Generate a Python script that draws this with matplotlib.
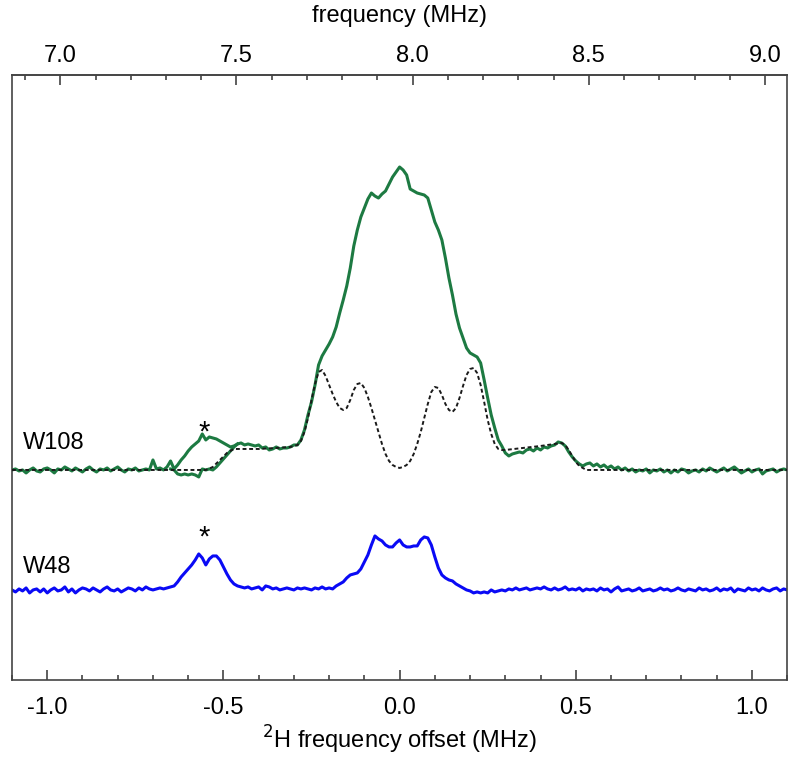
import numpy as np
import matplotlib.pyplot as plt
from matplotlib.ticker import MultipleLocator, FixedLocator

plt.rcParams['font.family'] = ['Liberation Sans', 'DejaVu Sans']

# 2H frequency offset grid (MHz), 0.01 MHz steps
offset = np.round(np.arange(-1.10, 1.105, 0.01), 2)

# W108 experimental spectrum (arb. units, baseline = 0)
w108 = [
    0.00, 0.01, -0.01, 0.00, -0.03, 0.00, 0.02, -0.01, -0.02, 0.01,
    0.02, 0.00, -0.03, 0.01, 0.00, 0.03, 0.01, -0.01, 0.02, 0.00,
    -0.02, 0.01, 0.03, 0.00, -0.02, 0.01, 0.00, 0.02, -0.01, 0.01,
    0.03, 0.00, -0.02, 0.01, 0.00, 0.02, -0.01, 0.00, 0.01, 0.00,
    0.10, 0.01, 0.02, 0.00, 0.03, 0.09, 0.01, 0.05, 0.10, 0.14,
    0.19, 0.23, 0.26, 0.29, 0.36, 0.30, 0.33, 0.32, 0.31, 0.29,
    0.27, 0.25, 0.23, 0.24, 0.26, 0.27, 0.25, 0.26, 0.25, 0.24,
    0.25, 0.22, 0.23, 0.20, 0.21, 0.23, 0.21, 0.22, 0.22, 0.23,
    0.25, 0.25, 0.30, 0.40, 0.55, 0.68, 0.85, 1.05, 1.14, 1.20,
    1.26, 1.33, 1.43, 1.57, 1.70, 1.84, 2.02, 2.24, 2.40, 2.53,
    2.62, 2.71, 2.77, 2.74, 2.72, 2.76, 2.79, 2.86, 2.93, 2.98,
    3.03, 3.00, 2.95, 2.81, 2.79, 2.77, 2.76, 2.75, 2.72, 2.60,
    2.48, 2.40, 2.30, 2.12, 1.92, 1.75, 1.56, 1.42, 1.32, 1.22,
    1.17, 1.15, 1.13, 1.07, 0.90, 0.72, 0.55, 0.42, 0.30, 0.24,
    0.17, 0.14, 0.16, 0.17, 0.18, 0.17, 0.20, 0.21, 0.19, 0.22,
    0.20, 0.23, 0.22, 0.24, 0.25, 0.28, 0.27, 0.24, 0.18, 0.13,
    0.09, 0.06, 0.04, 0.06, 0.07, 0.04, 0.06, 0.03, 0.05, 0.02,
    0.04, 0.01, 0.03, 0.00, 0.02, -0.01, 0.01, -0.02, 0.00, -0.01,
    0.01, -0.03, 0.00, -0.01, 0.01, -0.02, 0.00, -0.03, 0.00, -0.02,
    0.01, 0.00, -0.03, -0.01, 0.00, -0.02, 0.01, -0.01, 0.02, 0.00,
    -0.02, 0.00, 0.02, -0.01, 0.01, 0.03, 0.00, -0.03, -0.01, 0.01,
    -0.02, 0.00, 0.01, -0.04, -0.01, 0.00, 0.01, -0.02, 0.00, 0.01,
    0.00,
]

# second W108 trace, only where it departs from the first one
w108b_offset = [-0.65, -0.64, -0.63, -0.62, -0.61, -0.60, -0.59, -0.58, -0.57, -0.56,
                -0.55, -0.54, -0.53, -0.52, -0.51, -0.50, -0.49, -0.48, -0.47, -0.46]
w108b = [0.01, 0.00, -0.04, -0.05, -0.04, -0.05, -0.04, -0.05, -0.07, 0.01,
         0.00, 0.01, 0.00, 0.03, 0.07, 0.11, 0.15, 0.19, 0.23, 0.26]

# simulated W108 spectrum (dashed)
sim_offset = [-1.10, -0.60, -0.55, -0.53, -0.51, -0.49, -0.47, -0.45, -0.40, -0.35,
              -0.31, -0.29, -0.28, -0.27, -0.26, -0.25, -0.24, -0.23, -0.22, -0.21,
              -0.20, -0.19, -0.18, -0.17, -0.16, -0.15, -0.14, -0.13, -0.12, -0.11,
              -0.10, -0.09, -0.08, -0.07, -0.06, -0.05, -0.04, -0.03, -0.02, -0.01,
              0.00, 0.01, 0.02, 0.03, 0.04, 0.05, 0.06, 0.07, 0.08, 0.09,
              0.10, 0.11, 0.12, 0.13, 0.14, 0.15, 0.16, 0.17, 0.18, 0.19,
              0.20, 0.21, 0.22, 0.23, 0.24, 0.25, 0.26, 0.27, 0.28, 0.29,
              0.30, 0.35, 0.40, 0.44, 0.46, 0.47, 0.48, 0.49, 0.50, 0.51,
              0.52, 0.53, 1.10]
sim = [0.00, 0.00, 0.00, 0.03, 0.10, 0.17, 0.21, 0.21, 0.21, 0.22,
       0.23, 0.25, 0.29, 0.38, 0.52, 0.70, 0.86, 0.98, 1.00, 0.94,
       0.85, 0.76, 0.68, 0.62, 0.60, 0.62, 0.70, 0.80, 0.86, 0.87,
       0.82, 0.73, 0.62, 0.50, 0.38, 0.26, 0.16, 0.09, 0.05, 0.03,
       0.02, 0.03, 0.05, 0.09, 0.16, 0.26, 0.38, 0.52, 0.66, 0.78,
       0.83, 0.82, 0.75, 0.66, 0.60, 0.58, 0.62, 0.72, 0.84, 0.95,
       1.01, 1.02, 0.97, 0.85, 0.68, 0.50, 0.36, 0.26, 0.21, 0.20,
       0.20, 0.22, 0.24, 0.26, 0.27, 0.25, 0.20, 0.14, 0.08, 0.04,
       0.02, 0.00, 0.00]

# W48 experimental spectrum (arb. units, own baseline = 0)
w48 = [
    0.00, -0.02, 0.01, -0.01, 0.02, -0.03, 0.00, 0.01, -0.02, 0.01,
    -0.03, 0.00, 0.02, -0.01, 0.00, 0.03, -0.02, 0.01, -0.03, 0.00,
    0.02, 0.01, -0.01, 0.02, 0.00, -0.02, 0.01, 0.03, 0.00, -0.01,
    0.01, -0.02, 0.00, 0.02, 0.01, -0.01, 0.02, 0.00, 0.03, 0.01,
    0.00, 0.01, 0.02, 0.01, 0.02, 0.03, 0.04, 0.08, 0.13, 0.17,
    0.21, 0.25, 0.30, 0.36, 0.32, 0.25, 0.31, 0.34, 0.34, 0.30,
    0.23, 0.16, 0.10, 0.06, 0.04, 0.03, 0.02, 0.03, 0.01, 0.02,
    0.03, 0.00, 0.04, 0.03, 0.01, 0.02, 0.00, 0.01, 0.02, 0.01,
    0.00, 0.02, 0.01, 0.02, 0.01, 0.00, 0.02, 0.01, 0.03, 0.01,
    0.02, 0.01, 0.04, 0.06, 0.08, 0.12, 0.15, 0.16, 0.17, 0.21,
    0.28, 0.35, 0.45, 0.54, 0.51, 0.49, 0.45, 0.43, 0.43, 0.47,
    0.50, 0.45, 0.43, 0.43, 0.44, 0.44, 0.50, 0.53, 0.52, 0.45,
    0.33, 0.22, 0.15, 0.12, 0.10, 0.09, 0.06, 0.04, 0.02, 0.00,
    -0.01, -0.03, -0.02, -0.03, -0.02, -0.03, 0.00, -0.02, -0.01, 0.00,
    -0.01, 0.01, 0.00, 0.02, 0.00, 0.01, 0.02, 0.00, 0.01, 0.02,
    0.01, 0.03, 0.01, 0.00, 0.02, 0.00, 0.01, 0.03, 0.00, 0.01,
    0.00, 0.02, -0.01, 0.01, 0.00, 0.01, -0.01, 0.02, 0.00, 0.01,
    -0.02, 0.01, 0.03, -0.01, 0.00, 0.01, -0.01, 0.00, 0.02, -0.01,
    0.00, 0.01, -0.01, 0.00, 0.02, 0.00, 0.01, -0.01, 0.00, 0.02,
    0.00, -0.01, 0.01, 0.00, -0.01, 0.02, 0.00, 0.01, -0.01, 0.00,
    0.02, -0.01, 0.01, 0.00, 0.02, -0.02, 0.01, 0.00, -0.01, 0.02,
    0.00, 0.01, -0.01, 0.02, 0.00, -0.01, 0.01, 0.02, -0.01, 0.01,
    0.00,
]

bottom_ticks = [-1.0, -0.5, 0.0, 0.5, 1.0]
top_ticks = [7.0, 7.5, 8.0, 8.5, 9.0]

LARMOR = 7.963  # MHz, top axis = offset + LARMOR
W48_SHIFT = -1.20

green = '#1d7a42'
blue = '#0a0af5'

fig = plt.figure(figsize=(8.0, 7.58), dpi=100)
ax = fig.add_axes([0.015, 0.103, 0.969, 0.798])

ax.plot(offset, w108, color=green, lw=2.2, zorder=2)
ax.plot(w108b_offset, w108b, color=green, lw=2.2, zorder=2)
ax.plot(sim_offset, sim, color='#1a1a1a', lw=1.4, ls=(0, (2.0, 1.4)), zorder=3)
ax.plot(offset, np.array(w48) + W48_SHIFT, color=blue, lw=2.2, zorder=2)

ax.text(-1.068, 0.27, 'W108', fontsize=17, ha='left', va='center')
ax.text(-1.068, -0.97, 'W48', fontsize=17, ha='left', va='center')
ax.text(-0.555, 0.37, '*', fontsize=21, ha='center', va='center')
ax.text(-0.555, -0.68, '*', fontsize=21, ha='center', va='center')

ax.set_xlim(-1.1, 1.1)
ax.set_ylim(-2.10, 3.95)
ax.set_yticks([])
ax.xaxis.set_major_locator(FixedLocator(bottom_ticks))
ax.xaxis.set_minor_locator(MultipleLocator(0.1))
ax.xaxis.set_major_formatter(lambda v, p: f'{v:.1f}')
ax.tick_params(axis='x', which='both', direction='in', labelsize=17, pad=12,
               color='#333333', width=1.1)
ax.tick_params(axis='x', which='major', length=7)
ax.tick_params(axis='x', which='minor', length=3.5)
ax.set_xlabel('$^{2}$H frequency offset (MHz)', fontsize=17, labelpad=4)
for s in ax.spines.values():
    s.set_color('#444444')
    s.set_linewidth(1.2)

top = ax.secondary_xaxis('top', functions=(lambda x: x + LARMOR, lambda f: f - LARMOR))
top.xaxis.set_major_locator(FixedLocator(top_ticks))
top.xaxis.set_minor_locator(MultipleLocator(0.1))
top.xaxis.set_major_formatter(lambda v, p: f'{v:.1f}')
top.tick_params(axis='x', which='both', direction='in', labelsize=17, pad=6,
                color='#333333', width=1.1)
top.tick_params(axis='x', which='major', length=7)
top.tick_params(axis='x', which='minor', length=3.5)
top.set_xlabel('frequency (MHz)', fontsize=17, labelpad=16)
top.spines['top'].set_color('#444444')
top.spines['top'].set_linewidth(1.2)

fig.savefig('out.png', dpi=100)
